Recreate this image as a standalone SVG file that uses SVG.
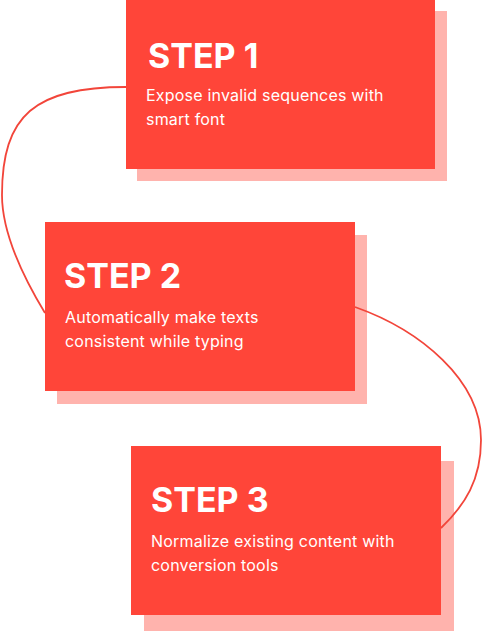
<svg xmlns="http://www.w3.org/2000/svg" width="483" height="631" viewBox="0 0 483 631">
<style>
.shadow{fill:#FFB3AD}
.box{fill:#FF4539}
.title{font-family:Inter,"Liberation Sans",sans-serif;font-weight:700;font-size:34px;fill:#FFFFFF}
.sub{font-family:Inter,"Liberation Sans",sans-serif;font-weight:400;font-size:16px;letter-spacing:0.2px;fill:#FFFFFF}
.conn{fill:none;stroke:#F2453A;stroke-width:1.8}
</style>
<rect width="483" height="631" fill="#FFFFFF"/>
<g id="step1">
<rect class="shadow" x="137" y="11" width="310" height="170"/>
<rect class="box" x="126" y="0" width="309" height="169"/>
<text class="title" x="148" y="68">STEP 1</text>
<text class="sub" x="146" y="101">Expose invalid sequences with</text>
<text class="sub" x="146" y="125">smart font</text>
</g>
<g id="step2">
<rect class="shadow" x="57" y="235" width="310" height="169"/>
<rect class="box" x="45" y="222" width="310" height="169"/>
<text class="title" x="64" y="288">STEP 2</text>
<text class="sub" x="65" y="323">Automatically make texts</text>
<text class="sub" x="65" y="347">consistent while typing</text>
</g>
<g id="step3">
<rect class="shadow" x="144" y="461" width="310" height="170"/>
<rect class="box" x="131" y="446" width="310" height="169"/>
<text class="title" x="151" y="512">STEP 3</text>
<text class="sub" x="151" y="547">Normalize existing content with</text>
<text class="sub" x="151" y="571">conversion tools</text>
</g>
<g id="connectors">
<path class="conn" d="M126,87 C35,87 2,115 2,195 C2,235 25,280 45,313"/>
<path class="conn" d="M355,307 C420,330 481,380 481,440 C481,480 465,505 441,528"/>
</g>
</svg>
